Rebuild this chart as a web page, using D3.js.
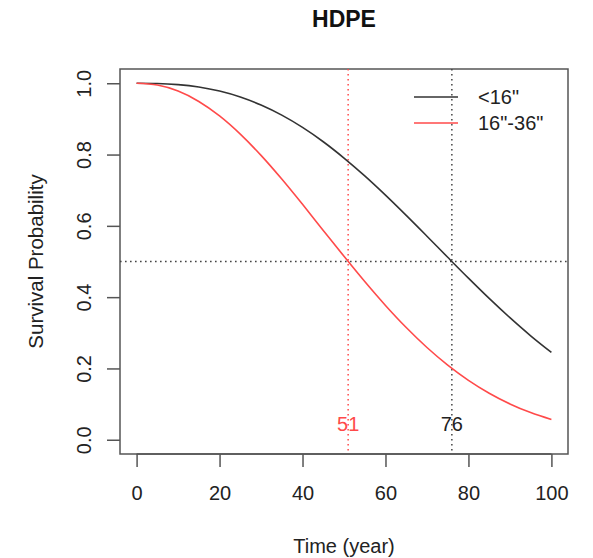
<!DOCTYPE html>
<html>
<head>
<meta charset="utf-8">
<script src="https://cdn.jsdelivr.net/npm/d3@7"></script>
<style>
html,body{margin:0;padding:0;background:#fff;}
svg text{font-family:"Liberation Sans",Arial,Helvetica,sans-serif;}
</style>
</head>
<body>
<svg id="chart" width="593" height="558"></svg>
<script>
// ---- data ----
const years = [0,5,10,15,20,25,30,35,40,45,50,55,60,65,70,75,80,85,90,95,100];
const survSmall = [1.000,0.9994,0.9963,0.9895,0.9781,0.9614,0.9389,0.9105,0.8761,0.8359,0.7902,0.7401,0.6861,0.6293,0.5709,0.5118,0.4533,0.3964,0.3423,0.2915,0.2449];
const survMid   = [1.000,0.9949,0.9780,0.9490,0.9083,0.8573,0.7976,0.7312,0.6603,0.5873,0.5145,0.4437,0.3767,0.3147,0.2587,0.2093,0.1667,0.1305,0.1005,0.0761,0.0567];
const seriesNames = ['<16"', '16"-36"'];
const medians = [76, 51];
const xTicks = [0,20,40,60,80,100];
const yTicks = [0.0,0.2,0.4,0.6,0.8,1.0];
const title = "HDPE";
const xTitle = "Time (year)";
const yTitle = "Survival Probability";

const colors = ["#333333", "#ff4a4a"];

const svg = d3.select("#chart");
const pL = 120, pR = 568, pT = 69, pB = 454;

const x = d3.scaleLinear().domain([-4,104]).range([pL,pR]);
const y = d3.scaleLinear().domain([-0.04,1.04]).range([pB,pT]);

const textCol = "#222";
const axisCol = "#555";

// title
svg.append("text").attr("x",(pL+pR)/2).attr("y",27).attr("text-anchor","middle")
  .attr("font-size",23).attr("font-weight","bold").attr("fill","#111").text(title);

// x axis
const xAxis = d3.axisBottom(x).tickValues(xTicks).tickSize(13).tickPadding(20).tickFormat(d3.format("d"));
const gx = svg.append("g").attr("transform",`translate(0,${pB})`).call(xAxis);
gx.select(".domain").remove();
gx.append("line").attr("x1",x(0)).attr("x2",x(100)).attr("y1",0).attr("y2",0).attr("stroke",axisCol).attr("stroke-width",1.5);
gx.selectAll(".tick line").attr("stroke",axisCol).attr("stroke-width",1.5);
gx.selectAll(".tick text").attr("fill",textCol).attr("font-size",20).attr("font-family","Liberation Sans, Arial, sans-serif").attr("dy",null).attr("y",46);

// y axis
const yAxis = d3.axisLeft(y).tickValues(yTicks).tickSize(13).tickFormat(d3.format(".1f"));
const gy = svg.append("g").attr("transform",`translate(${pL},0)`).call(yAxis);
gy.select(".domain").remove();
gy.selectAll(".tick line").attr("stroke",axisCol).attr("stroke-width",1.5);
gy.selectAll(".tick text").attr("fill",textCol).attr("font-size",20).attr("font-family","Liberation Sans, Arial, sans-serif")
  .attr("x",null).attr("dy",null).attr("text-anchor","middle")
  .attr("transform","translate(-29,0) rotate(-90)");

// box
svg.append("rect").attr("x",pL).attr("y",pT).attr("width",pR-pL).attr("height",pB-pT)
  .attr("fill","none").attr("stroke",axisCol).attr("stroke-width",1.5);

// axis titles
svg.append("text").attr("x",(pL+pR)/2).attr("y",553).attr("text-anchor","middle")
  .attr("font-size",20).attr("fill",textCol).text(xTitle);
svg.append("text").attr("transform",`translate(43,${(pT+pB)/2}) rotate(-90)`).attr("text-anchor","middle")
  .attr("font-size",20.5).attr("fill",textCol).text(yTitle);

// reference lines
const dash = "1.6,3.4";
svg.append("line").attr("x1",pL).attr("x2",pR).attr("y1",y(0.5)).attr("y2",y(0.5))
  .attr("stroke","#444").attr("stroke-width",1.5).attr("stroke-dasharray",dash);
medians.forEach((m,i)=>{
  svg.append("line").attr("x1",x(m)).attr("x2",x(m)).attr("y1",pT).attr("y2",pB)
    .attr("stroke", i===0 ? "#444" : colors[1]).attr("stroke-width",1.5).attr("stroke-dasharray",dash);
  svg.append("text").attr("x",x(m)).attr("y",431).attr("text-anchor","middle")
    .attr("font-size",20).attr("fill", i===0 ? textCol : colors[1]).text(m);
});

// curves
const line = d3.line().x((d,i)=>x(years[i])).y(d=>y(d)).curve(d3.curveMonotoneX);
[survSmall, survMid].forEach((s,i)=>{
  svg.append("path").attr("d",line(s)).attr("fill","none").attr("stroke",colors[i]).attr("stroke-width",1.6);
});

// legend
const legY = [97, 123];
seriesNames.forEach((n,i)=>{
  svg.append("line").attr("x1",414).attr("x2",458).attr("y1",legY[i]).attr("y2",legY[i])
    .attr("stroke",colors[i]).attr("stroke-width",1.6);
  svg.append("text").attr("x",478).attr("y",legY[i]+7).attr("font-size",20).attr("fill",textCol).text(n);
});
</script>
</body>
</html>
